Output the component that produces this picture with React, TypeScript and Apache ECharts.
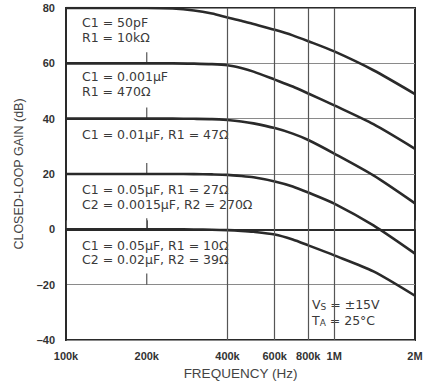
import React, { useEffect, useRef } from "react";
import * as echarts from "echarts";

const freqs = [1e5, 2e5, 2.5e5, 3e5, 3.5e5, 4e5, 4.5e5, 5e5, 6e5, 7e5, 8e5, 1e6, 1.4e6, 2e6];
const gain80 = [80, 80, 79.8, 79.1, 78.0, 76.6, 75.4, 74.2, 72.1, 70.1, 68.0, 64.3, 57.5, 48.9];
const gain60 = [60, 60, 60, 59.9, 59.7, 59.3, 58.3, 57.0, 54.1, 51.6, 49.1, 44.8, 38.0, 29.1];
const gain40 = [40, 40, 40, 39.95, 39.85, 39.5, 39.0, 38.3, 36.6, 34.6, 32.3, 27.4, 19.5, 9.4];
const gain20 = [20, 20, 20, 19.95, 19.85, 19.7, 19.3, 18.8, 17.3, 15.5, 13.3, 9.3, 1.4, -8.8];
const gain0 = [0, 0, 0, -0.05, -0.15, -0.3, -0.55, -0.9, -1.9, -3.7, -5.8, -9.4, -15.2, -24];

const tickFreqs = [1e5, 2e5, 4e5, 6e5, 8e5, 1e6, 2e6];
const tickLabels = ["100k", "200k", "400k", "600k", "800k", "1M", "2M"];
const gridFreqs = [4e5, 6e5, 8e5, 1e6];
const shortTickFreq = 2e5;
const shortTickLevels = [-20, 0, 20, 40, 60];
const shortTickLength = 4;

const curves = [gain80, gain60, gain40, gain20, gain0];

const notes: { x: number; y: number; text: string }[] = [
  { x: 82, y: 22, text: "C1 = 50pF" },
  { x: 82, y: 37, text: "R1 = 10kΩ" },
  { x: 82, y: 76, text: "C1 = 0.001μF" },
  { x: 82, y: 91, text: "R1 = 470Ω" },
  { x: 82, y: 134, text: "C1 = 0.01μF, R1 = 47Ω" },
  { x: 82, y: 189, text: "C1 = 0.05μF, R1 = 27Ω" },
  { x: 82, y: 204, text: "C2 = 0.0015μF, R2 = 270Ω" },
  { x: 82, y: 245, text: "C1 = 0.05μF, R1 = 10Ω" },
  { x: 82, y: 259, text: "C2 = 0.02μF, R2 = 39Ω" },
];

export default function App() {
  const ref = useRef<HTMLDivElement>(null);
  useEffect(() => {
    if (!ref.current) return;
    const chart = echarts.init(ref.current, undefined, { renderer: "svg" });
    const font = "Liberation Sans, Arial, sans-serif";
    const noteFont = "DejaVu Sans, sans-serif";
    const series: any[] = curves.map((c) => ({
      type: "line",
      data: freqs.map((f, i) => [f, c[i]]),
      smooth: 0.25,
      symbol: "none",
      lineStyle: { color: "#2a2a2a", width: 2.6 },
      z: 3,
    }));
    series.push({
      type: "line",
      data: [],
      silent: true,
      z: 2,
      markLine: {
        silent: true,
        symbol: "none",
        label: { show: false },
        lineStyle: { color: "#555", width: 1.2, type: "solid" },
        data: gridFreqs.map((f) => [{ coord: [f, -40] }, { coord: [f, 80] }]),
      },
    });
    const sub = {
      n: { fontFamily: noteFont, fontSize: 12.5, fill: "#3a3a3a" },
      s: { fontFamily: noteFont, fontSize: 9, fill: "#3a3a3a", padding: [5, 0, 0, 0] },
    };
    chart.setOption({
      animation: false,
      grid: {
        left: 66,
        right: 26,
        top: 8,
        bottom: 42,
        show: true,
        borderColor: "#2a2a2a",
        borderWidth: 2,
      },
      xAxis: {
        type: "log",
        logBase: 10,
        min: 1e5,
        max: 2e6,
        name: "FREQUENCY (Hz)",
        nameLocation: "middle",
        nameGap: 26,
        nameTextStyle: { fontFamily: font, fontSize: 13.5, color: "#444" },
        axisLine: { show: true, lineStyle: { color: "#2a2a2a", width: 2 } },
        axisTick: {
          show: true,
          inside: true,
          length: 9,
          customValues: tickFreqs,
          lineStyle: { color: "#555" },
        },
        axisLabel: {
          customValues: tickFreqs,
          margin: 10,
          fontFamily: font,
          fontSize: 11,
          fontWeight: "bold",
          color: "#333",
          formatter: (v: number) => {
            let best = 0;
            tickFreqs.forEach((t, i) => {
              if (Math.abs(Math.log(t / v)) < Math.abs(Math.log(tickFreqs[best] / v))) best = i;
            });
            return tickLabels[best];
          },
        },
        splitLine: { show: false },
        minorTick: { show: false },
        minorSplitLine: { show: false },
      },
      yAxis: {
        type: "value",
        min: -40,
        max: 80,
        interval: 20,
        name: "CLOSED-LOOP GAIN (dB)",
        nameLocation: "middle",
        nameGap: 40,
        nameTextStyle: { fontFamily: font, fontSize: 12.5, color: "#444" },
        axisLine: { show: true, lineStyle: { color: "#2a2a2a", width: 2 } },
        axisTick: { show: false },
        axisLabel: {
          margin: 11,
          fontFamily: font,
          fontSize: 11,
          fontWeight: "bold",
          color: "#333",
          formatter: (v: number) => (v < 0 ? "–" + Math.abs(v) : String(v)),
        },
        splitLine: { show: true, lineStyle: { color: "#8a8a8a", width: 1 } },
      },
      graphic: [
        {
          type: "rect",
          z: 1,
          shape: { x: 298, y: 289, width: 94, height: 44 },
          style: { fill: "#fff" },
        },
        ...notes.map((n) => ({
          type: "text",
          x: n.x,
          y: n.y,
          z: 4,
          style: {
            text: n.text,
            fontFamily: noteFont,
            fontSize: 12.5,
            fill: "#3a3a3a",
            verticalAlign: "middle",
          },
        })),
        {
          type: "text",
          x: 312,
          y: 304,
          z: 4,
          style: {
            text: "{n|V}{s|S}{n| = ±15V}",
            fontFamily: noteFont,
            fontSize: 12.5,
            fill: "#3a3a3a",
            verticalAlign: "middle",
            rich: sub,
          },
        },
        {
          type: "text",
          x: 312,
          y: 320,
          z: 4,
          style: {
            text: "{n|T}{s|A}{n| = 25°C}",
            fontFamily: noteFont,
            fontSize: 12.5,
            fill: "#3a3a3a",
            verticalAlign: "middle",
            rich: sub,
          },
        },
      ],
      series,
    });
    // short tick marks at 200k, positioned through the chart's own scales
    const tickGraphics = shortTickLevels.map((lv, i) => {
      const p0 = chart.convertToPixel({ gridIndex: 0 }, [shortTickFreq, lv]) as number[];
      const p1 = chart.convertToPixel({ gridIndex: 0 }, [shortTickFreq, lv + shortTickLength]) as number[];
      return {
        type: "line",
        id: "st" + i,
        z: 2,
        shape: { x1: p0[0], y1: p0[1], x2: p1[0], y2: p1[1] },
        style: { stroke: "#555", lineWidth: 1.2 },
      };
    });
    chart.setOption({ graphic: tickGraphics });
    return () => chart.dispose();
  }, []);
  return <div ref={ref} style={{ width: 441, height: 385, position: "absolute", left: 0, top: 0 }} />;
}
